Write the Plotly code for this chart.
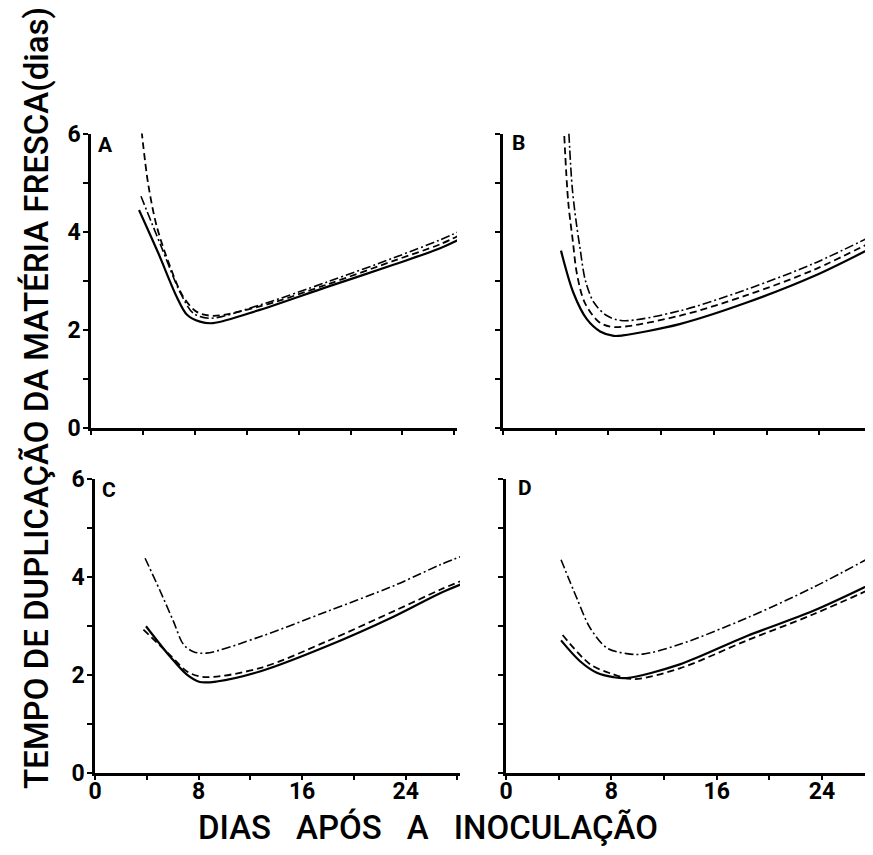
import plotly.graph_objects as go

W, H = 873, 855

# ---------------- data (days after inoculation, doubling time in days) -------------
# Panel A
A_solid_x = [3.7, 5.2, 6.6, 7.4, 8.4, 9.4, 13.0, 18.2, 23.3, 26.9, 28.6]
A_solid_y = [4.44, 3.55, 2.67, 2.30, 2.16, 2.13, 2.40, 2.87, 3.32, 3.66, 3.87]
A_dash_x = [3.9, 4.4, 5.07, 6.1, 7.1, 8.15, 9.4, 13.0, 18.2, 23.3, 26.9, 28.6]
A_dash_y = [6.05, 4.98, 4.10, 3.28, 2.67, 2.36, 2.28, 2.47, 2.92, 3.40, 3.74, 3.95]
A_dd_x = [3.85, 5.4, 6.9, 7.9, 9.2, 13.0, 18.2, 23.3, 26.9, 28.6]
A_dd_y = [4.72, 3.70, 2.74, 2.33, 2.23, 2.50, 2.97, 3.46, 3.83, 4.03]

# Panel B
B_solid_x = [4.4, 5.34, 6.36, 7.37, 8.4, 9.1, 13.4, 18.5, 23.6, 28.3]
B_solid_y = [3.61, 2.75, 2.21, 1.96, 1.87, 1.88, 2.11, 2.55, 3.09, 3.71]
B_dash_x = [4.65, 4.95, 5.3, 5.6, 6.2, 7.3, 8.4, 13.4, 18.5, 23.6, 28.3]
B_dash_y = [5.95, 4.60, 3.80, 3.15, 2.55, 2.15, 2.05, 2.28, 2.70, 3.22, 3.83]
B_dd_x = [5.0, 5.25, 5.55, 5.85, 6.25, 6.9, 7.9, 9.1, 13.4, 18.5, 23.6, 28.3]
B_dd_y = [6.00, 4.90, 4.20, 3.65, 3.00, 2.55, 2.28, 2.18, 2.38, 2.82, 3.35, 3.95]

# Panel C
C_solid_x = [3.94, 5.8, 7.1, 8.1, 9.4, 12.8, 17.9, 23.1, 26.7, 28.6]
C_solid_y = [2.99, 2.37, 2.00, 1.85, 1.86, 2.07, 2.58, 3.19, 3.67, 3.88]
C_dash_x = [3.74, 5.8, 7.2, 8.6, 12.8, 17.9, 23.1, 26.7, 28.6]
C_dash_y = [2.92, 2.40, 2.05, 1.95, 2.14, 2.68, 3.30, 3.74, 3.95]
C_dd_x = [3.87, 5.0, 6.06, 6.83, 7.6, 8.6, 12.8, 17.9, 23.1, 26.7, 28.6]
C_dd_y = [4.38, 3.73, 3.09, 2.62, 2.47, 2.44, 2.78, 3.29, 3.82, 4.25, 4.45]

# Panel D
D_solid_x = [4.18, 5.6, 6.9, 8.15, 9.16, 13.2, 18.3, 23.3, 28.1]
D_solid_y = [2.70, 2.28, 2.04, 1.95, 1.93, 2.21, 2.79, 3.30, 3.90]
D_dash_x = [4.3, 6.4, 8.0, 9.67, 13.2, 18.3, 23.3, 28.1]
D_dash_y = [2.81, 2.21, 2.02, 1.91, 2.13, 2.70, 3.23, 3.80]
D_dd_x = [4.18, 5.37, 6.38, 7.64, 9.16, 10.4, 13.2, 18.3, 23.3, 28.1]
D_dd_y = [4.35, 3.57, 2.96, 2.55, 2.43, 2.42, 2.62, 3.16, 3.78, 4.46]

panel_letters = ["A", "B", "C", "D"]
x_tick_vals = [0, 4, 8, 12, 16, 20, 24, 28]
x_tick_text = ["0", "", "8", "", "16", "", "24", ""]
y_tick_vals = [0, 1, 2, 3, 4, 5, 6]
y_tick_text = ["0", "", "2", "", "4", "", "6"]
y_title = "TEMPO DE DUPLICAÇÃO DA MATÉRIA FRESCA(dias)"
x_title = "DIAS\u2002 APÓS\u2002 A\u2002 INOCULAÇÃO"

FONT = "Roboto, Liberation Sans, Arial, sans-serif"
OFF = 8  # page body margin of the html document


def fx(p):
    return (p - OFF) / W


def fy(p):
    return 1 - (p - OFF) / H


# pixel geometry of each panel on the page: x0, x1, y bottom, y top, x range max
geom = {
    "A": dict(x0=91, x1=457, yb=427.5, yt=133.5, xmax=28.2),
    "B": dict(x0=503, x1=876, yb=427.5, yt=133.5, xmax=28.3),
    "C": dict(x0=95, x1=460, yb=772.5, yt=479, xmax=28.2),
    "D": dict(x0=506, x1=876, yb=772.5, yt=479, xmax=28.1),
}

series = {
    "A": [(A_solid_x, A_solid_y), (A_dash_x, A_dash_y), (A_dd_x, A_dd_y)],
    "B": [(B_solid_x, B_solid_y), (B_dash_x, B_dash_y), (B_dd_x, B_dd_y)],
    "C": [(C_solid_x, C_solid_y), (C_dash_x, C_dash_y), (C_dd_x, C_dd_y)],
    "D": [(D_solid_x, D_solid_y), (D_dash_x, D_dash_y), (D_dd_x, D_dd_y)],
}
styles = [
    dict(color="black", width=2.2, dash="solid"),
    dict(color="black", width=1.8, dash="7px,4px"),
    dict(color="black", width=1.6, dash="9px,3px,2px,3px"),
]

fig = go.Figure()
layout = dict(
    width=W, height=H,
    margin=dict(l=0, r=0, t=0, b=0, autoexpand=False),
    paper_bgcolor="white", plot_bgcolor="white",
    showlegend=False,
    font=dict(family=FONT, color="black"),
)

annotations = []
for i, key in enumerate(panel_letters):
    n = "" if i == 0 else str(i + 1)
    g = geom[key]
    for (xs, ys), st in zip(series[key], styles):
        fig.add_trace(go.Scatter(
            x=xs, y=ys, mode="lines", xaxis="x" + n, yaxis="y" + n,
            line=dict(color=st["color"], width=st["width"], dash=st["dash"],
                      shape="spline", smoothing=0.9),
            hoverinfo="skip",
        ))
    left = key in ("A", "C")
    bottom = key in ("C", "D")
    layout["xaxis" + n] = dict(
        domain=[fx(g["x0"]), fx(g["x1"])], range=[0, g["xmax"]], anchor="y" + n,
        automargin=False,
        showline=True, linecolor="black", linewidth=2.5, showgrid=False, zeroline=False,
        ticks="outside", ticklen=5, tickwidth=2, tickcolor="black",
        tickvals=x_tick_vals, ticktext=x_tick_text, showticklabels=bottom,
        ticklabelstandoff=-9,
        tickfont=dict(family=FONT, size=23, color="black", weight="bold"), fixedrange=True,
    )
    layout["yaxis" + n] = dict(
        domain=[fy(g["yb"]), fy(g["yt"])], range=[0, 6], anchor="x" + n,
        automargin=False,
        showline=True, linecolor="black", linewidth=2.5, showgrid=False, zeroline=False,
        ticks="outside", ticklen=5, tickwidth=2, tickcolor="black",
        tickvals=y_tick_vals, ticktext=y_tick_text, showticklabels=left,
        ticklabelstandoff=-2,
        tickfont=dict(family=FONT, size=23, color="black", weight="bold"), fixedrange=True,
    )

letter_pos = {"A": (96, 145), "B": (510, 143), "C": (100, 490), "D": (516, 488)}
for key in panel_letters:
    px_, py_ = letter_pos[key]
    annotations.append(dict(
        text="<b>" + key + "</b>", x=fx(px_), y=fy(py_), xref="paper", yref="paper",
        xanchor="left", yanchor="middle", showarrow=False,
        font=dict(family=FONT, size=21, color="black"),
    ))

annotations.append(dict(
    text=y_title, x=fx(36), y=fy(398), xref="paper", yref="paper",
    xanchor="center", yanchor="middle", textangle=-90, showarrow=False,
    font=dict(family=FONT, size=33, color="black", weight=500),
))
annotations.append(dict(
    text=x_title, x=fx(428), y=fy(827), xref="paper", yref="paper",
    xanchor="center", yanchor="middle", showarrow=False,
    font=dict(family=FONT, size=33, color="black", weight=500),
))
layout["annotations"] = annotations

fig.update_layout(**layout)
fig.write_html("out.html")
